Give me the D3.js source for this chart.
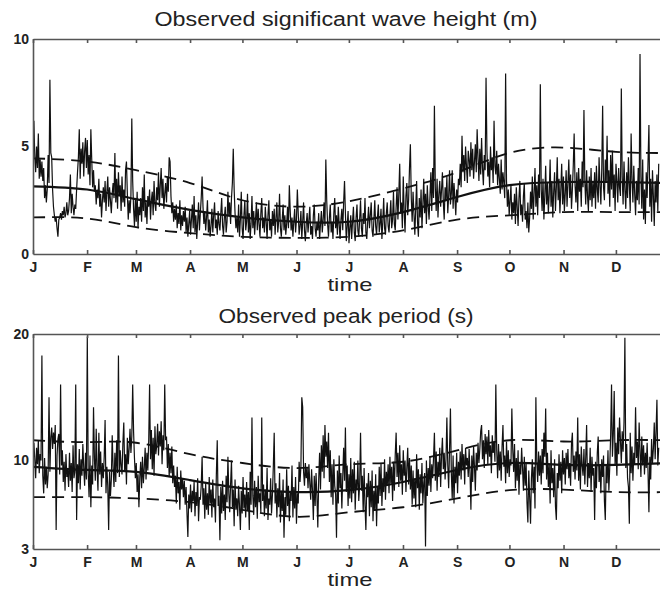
<!DOCTYPE html>
<html>
<head>
<meta charset="utf-8">
<script src="https://cdn.jsdelivr.net/npm/d3@7.9.0/dist/d3.min.js"></script>
<style>
  body { margin: 0; background: #fff; }
  svg { display: block; font-family: "Liberation Sans", Arial, Helvetica, sans-serif; }
</style>
</head>
<body>
<svg id="chart" width="660" height="593"></svg>
<script>
const months = ["J", "F", "M", "A", "M", "J", "J", "A", "S", "O", "N", "D"];
const monthStartDays = [0, 31, 59, 90, 120, 151, 181, 212, 243, 273, 304, 334];
const sampleStep = 0.51; // days between observations

// observed significant wave height (m)
const hsObs = [
  4.2, 6.2, 4.5, 3.8, 5.0, 4.0, 5.6, 3.5, 4.4, 3.6,
  4.3, 3.4, 4.0, 2.6, 3.2, 2.4, 3.0, 4.6, 3.3, 8.1,
  4.7, 4.5, 3.0, 2.2, 1.8, 1.5, 1.7, 1.2, 0.8, 1.6,
  1.7, 1.9, 1.6, 2.0, 1.8, 2.2, 1.7, 1.9, 2.4, 1.8,
  2.0, 2.6, 3.7, 1.9, 2.8, 2.2, 1.8, 2.3, 2.1, 3.0,
  3.8, 4.5, 5.8, 3.5, 4.9, 4.2, 5.2, 3.6, 4.8, 5.4,
  4.0, 5.3, 3.7, 4.6, 3.2, 5.8, 4.4, 3.1, 3.9, 2.9,
  3.2, 2.3, 3.0, 2.6, 3.5, 2.2, 2.8, 1.7, 2.5, 3.1,
  2.4, 3.4, 2.0, 2.9, 3.6, 2.2, 3.1, 2.5, 1.9, 2.8,
  3.3, 2.6, 4.7, 2.4, 3.5, 2.1, 3.8, 2.7, 3.2, 2.0,
  3.6, 2.4, 3.0, 2.2, 3.9, 4.3, 2.8, 1.6, 2.5, 1.9,
  2.7, 6.3, 3.4, 2.1, 1.3, 2.6, 1.5, 2.9, 1.2, 2.2,
  1.8, 2.6, 1.5, 3.1, 2.0, 3.7, 1.7, 2.4, 1.4, 2.7,
  2.2, 3.0, 1.6, 2.5, 2.9, 1.8, 3.4, 2.3, 2.0, 3.1,
  2.5, 3.8, 2.2, 3.2, 4.0, 2.6, 3.5, 2.1, 2.8, 3.3,
  2.4, 3.6, 2.9, 4.5, 4.3, 2.7, 1.9, 2.4, 1.5, 2.1,
  1.6, 2.3, 1.2, 1.9, 1.4, 2.5, 1.1, 1.8, 1.3, 2.0,
  1.5, 2.2, 1.0, 1.7, 0.8, 1.4, 2.0, 0.9, 1.6, 2.3,
  1.2, 2.7, 1.0, 1.8, 0.7, 1.5, 2.4, 1.1, 1.9, 2.6,
  3.6, 2.2, 1.4, 2.0, 1.1, 1.7, 2.5, 1.0, 1.6, 0.8,
  1.3, 2.1, 1.0, 1.8, 2.4, 1.2, 1.6, 0.9, 2.0, 1.4,
  1.1, 1.9, 2.6, 1.3, 0.9, 1.7, 2.2, 1.0, 1.5, 2.9,
  1.8, 2.4, 1.4, 2.6, 3.3, 4.9, 3.0, 1.9, 1.2, 1.7,
  1.0, 2.3, 0.8, 1.6, 2.9, 1.2, 0.7, 1.8, 2.5, 1.1,
  1.5, 2.8, 1.0, 1.9, 0.7, 1.4, 2.7, 1.2, 2.0, 0.9,
  1.6, 2.4, 1.1, 2.1, 1.4, 0.8, 1.9, 2.6, 1.2, 1.7,
  1.0, 2.2, 1.5, 0.7, 1.8, 2.5, 1.1, 1.6, 0.8, 2.0,
  1.3, 2.1, 0.9, 1.7, 2.4, 1.0, 1.5, 2.8, 1.2, 0.8,
  1.6, 2.3, 1.1, 1.8, 0.9, 1.4, 2.2, 1.2, 3.2, 2.0,
  1.1, 1.7, 0.8, 1.5, 2.1, 1.0, 1.6, 3.0, 1.9, 0.9,
  1.3, 2.0, 0.7, 1.5, 2.4, 1.1, 0.6, 1.4, 1.9, 1.0,
  1.6, 2.2, 0.9, 1.3, 0.7, 1.8, 2.3, 1.2, 0.8, 1.5,
  1.1, 1.9, 0.7, 1.4, 2.0, 1.0, 1.6, 2.4, 1.3, 4.4,
  2.5, 1.4, 0.8, 1.7, 2.3, 1.0, 1.5, 0.7, 1.9, 2.6,
  1.2, 1.8, 0.9, 2.2, 1.4, 0.7, 1.6, 2.1, 1.1, 2.4,
  3.4, 1.9, 0.6, 1.3, 2.0, 0.5, 1.2, 1.8, 0.7, 1.5,
  2.2, 1.0, 0.6, 1.7, 2.3, 1.1, 0.8, 1.6, 2.5, 1.2,
  0.8, 1.9, 1.4, 2.6, 1.0, 0.7, 1.5, 2.2, 1.2, 1.8,
  2.4, 1.1, 0.8, 1.6, 2.5, 1.3, 0.9, 1.7, 2.3, 1.0,
  1.4, 2.1, 0.7, 1.5, 2.6, 1.2, 0.9, 1.9, 2.4, 1.3,
  1.0, 1.8, 2.5, 1.2, 1.6, 2.9, 1.4, 1.1, 2.2, 3.1,
  1.6, 2.8, 4.2, 1.9, 2.4, 1.2, 3.6, 2.0, 1.0, 2.7,
  3.3, 1.8, 2.5, 4.0, 5.1, 2.6, 1.5, 2.9, 1.9, 0.9,
  2.1, 3.4, 1.5, 0.8, 2.6, 1.7, 3.0, 1.2, 2.3, 3.5,
  1.9, 2.8, 1.4, 3.2, 2.2, 1.6, 2.7, 3.8, 2.0, 4.0,
  2.6, 6.9, 3.1, 2.0, 3.5, 1.7, 2.8, 3.4, 2.2, 3.0,
  3.8, 2.4, 1.6, 3.1, 2.5, 3.6, 1.9, 2.7, 3.9, 2.3,
  2.8, 3.9, 2.1, 3.3, 2.6, 1.8, 3.0, 2.4, 3.5, 3.2,
  4.2, 3.1, 5.5, 3.8, 4.6, 3.4, 5.0, 4.1, 3.3, 4.8,
  4.4, 3.6, 5.2, 3.9, 4.9, 3.5, 4.3, 5.1, 3.8, 5.8,
  4.5, 3.4, 4.9, 3.7, 5.4, 4.0, 3.2, 4.6, 3.9, 8.2,
  4.8, 3.6, 4.3, 3.1, 5.0, 3.9, 4.5, 3.3, 6.2, 4.1,
  3.7, 4.8, 3.2, 4.2, 3.5, 2.8, 4.4, 3.0, 3.8, 3.3,
  2.6, 8.4, 3.4, 2.2, 3.0, 1.8, 2.5, 3.2, 1.6, 2.4,
  1.9, 2.8, 1.4, 3.1, 2.2, 1.3, 2.6, 3.4, 1.8, 2.3,
  1.5, 2.7, 3.3, 1.6, 2.0, 1.2, 2.4, 1.0, 1.7, 2.9,
  2.1, 3.6, 1.6, 2.8, 4.0, 2.2, 3.2, 1.8, 3.7, 2.6,
  7.9, 3.0, 2.0, 3.5, 1.6, 2.7, 4.1, 2.3, 3.3, 1.9,
  2.8, 4.4, 2.2, 3.4, 1.7, 2.9, 3.8, 2.0, 3.1, 4.5,
  2.5, 3.5, 1.9, 3.0, 4.2, 2.3, 3.6, 2.0, 2.8, 3.9,
  2.2, 3.3, 4.4, 2.6, 3.7, 2.1, 3.0, 4.1, 5.6, 3.2,
  2.4, 3.8, 2.0, 4.0, 2.9, 3.5, 2.2, 4.3, 3.1, 6.7,
  3.4, 2.3, 3.9, 2.7, 2.0, 3.6, 2.5, 4.0, 2.2, 3.3,
  2.6, 3.8, 2.1, 4.1, 3.0, 2.4, 4.5, 3.2, 2.3, 3.9,
  6.9, 3.1, 2.5, 4.4, 3.3, 5.5, 2.8, 3.9, 2.2, 4.6,
  3.0, 4.8, 2.6, 3.7, 2.0, 4.2, 3.4, 2.4, 4.0, 3.1,
  2.7, 7.7, 3.6, 2.3, 4.3, 3.0, 2.1, 3.8, 2.6, 4.5,
  3.2, 2.0, 5.6, 3.5, 2.4, 4.1, 2.8, 1.8, 3.4, 2.5,
  4.0, 2.3, 9.3, 3.6, 2.1, 4.4, 1.6, 3.0, 1.4, 3.8,
  2.6, 4.3, 6.0, 2.2, 3.5, 1.5, 3.9, 2.7, 1.3, 3.4,
  2.4, 3.7, 2.0, 4.2
];

// observed peak period (s)
const tpObs = [
  9.2, 11.4, 10.1, 8.6, 11.0, 9.7, 11.6, 9.0, 10.5, 10.0,
  18.3, 8.8, 7.4, 10.2, 8.1, 9.5, 7.8, 8.9, 15.0, 9.1,
  11.8, 12.6, 10.9, 12.2, 11.3, 12.8, 4.5, 10.4, 11.7, 12.1,
  8.9, 16.0, 9.6, 10.8, 8.3, 9.9, 7.6, 10.5, 8.7, 9.3,
  7.9, 10.6, 8.4, 9.8, 7.5, 11.2, 8.6, 9.1, 16.0, 5.3,
  9.7, 8.2, 10.9, 7.7, 10.1, 8.8, 11.3, 9.4, 8.0, 10.6,
  8.5, 19.8, 9.0, 7.1, 10.4, 6.3, 9.6, 8.1, 14.2, 10.2,
  8.4, 12.5, 9.3, 7.6, 12.2, 8.9, 10.7, 7.9, 9.8, 8.6,
  10.3, 13.2, 7.4, 9.5, 8.0, 4.5, 9.1, 7.2, 8.5, 12.0,
  9.4, 7.9, 10.6, 8.3, 11.6, 9.0, 18.3, 8.7, 10.8, 9.6,
  8.9, 11.4, 13.0, 9.2, 10.5, 8.1, 11.8, 9.7, 10.9, 12.5,
  10.6, 11.9, 16.0, 12.3, 10.2, 8.6, 9.8, 7.5, 8.9, 6.3,
  8.7, 9.9, 7.8, 10.3, 8.2, 9.4, 11.0, 8.5, 10.6, 9.2,
  11.5, 16.0, 10.1, 12.4, 9.3, 11.8, 8.8, 12.7, 10.5, 11.2,
  12.9, 10.4, 12.3, 11.1, 13.1, 9.7, 12.0, 10.8, 16.0, 11.6,
  11.9, 9.4, 11.3, 8.7, 10.6, 9.0, 11.1, 8.2, 9.6, 7.9,
  8.8, 6.6, 9.5, 7.4, 8.3, 6.1, 9.2, 7.7, 8.6, 7.1,
  8.4, 6.5, 7.9, 5.8, 3.95, 7.3, 6.2, 8.1, 5.9, 7.6,
  6.8, 8.3, 5.6, 7.5, 6.4, 8.6, 5.2, 7.1, 6.9, 8.0,
  10.3, 6.5, 7.8, 5.4, 8.2, 6.1, 7.4, 5.7, 8.7, 6.6,
  7.7, 5.5, 8.5, 6.3, 7.0, 5.1, 8.9, 11.6, 6.4, 7.2,
  3.7, 7.9, 5.8, 8.4, 6.0, 7.3, 5.3, 8.8, 6.7, 10.3,
  7.4, 5.9, 8.1, 10.0, 6.3, 7.7, 4.8, 8.5, 6.1, 7.0,
  5.6, 8.0, 6.4, 4.5, 7.6, 5.8, 8.7, 6.2, 7.3, 5.5,
  8.3, 6.0, 7.5, 4.5, 9.1, 6.5, 13.4, 7.2, 5.7, 8.4,
  6.3, 7.9, 5.4, 8.8, 6.7, 7.4, 5.9, 13.4, 6.8, 8.1,
  5.6, 7.7, 6.2, 9.4, 5.3, 7.0, 6.5, 8.6, 5.8, 7.3,
  9.5, 12.2, 6.6, 8.2, 5.5, 7.8, 6.3, 9.0, 5.1, 7.6,
  6.0, 8.5, 3.9, 7.1, 5.7, 9.3, 6.4, 8.0, 5.2, 7.5,
  6.8, 9.6, 5.5, 7.9, 6.2, 8.7, 5.0, 7.4, 6.6, 9.9,
  8.3, 9.5, 15.0, 14.2, 9.1, 8.0, 9.8, 8.6, 9.4, 7.8,
  9.7, 8.2, 6.9, 9.3, 7.6, 5.3, 8.8, 6.4, 9.0, 7.2,
  4.7, 8.5, 10.6, 7.7, 11.2, 9.1, 12.0, 8.6, 12.8, 10.3,
  11.5, 9.4, 12.2, 8.3, 10.8, 7.1, 9.7, 6.5, 10.1, 8.0,
  7.3, 3.9, 9.2, 6.6, 10.4, 7.8, 9.0, 6.2, 8.7, 11.0,
  8.4, 12.6, 7.5, 9.6, 6.4, 8.9, 7.0, 10.2, 6.7, 9.3,
  7.4, 9.9, 6.1, 8.5, 7.7, 10.0, 6.8, 8.1, 12.2, 7.6,
  8.8, 5.9, 9.4, 6.5, 4.5, 8.2, 7.1, 9.0, 5.6, 8.4,
  6.3, 9.2, 5.2, 7.6, 6.0, 8.9, 4.8, 7.9, 6.6, 9.5,
  7.2, 9.8, 6.4, 8.6, 7.5, 10.1, 6.9, 9.1, 8.0, 9.7,
  7.4, 10.3, 8.2, 9.5, 6.8, 9.9, 7.6, 10.5, 12.2, 8.7,
  10.6, 7.9, 11.2, 8.4, 9.7, 7.3, 10.8, 8.8, 10.0, 7.5,
  9.4, 11.0, 8.1, 10.2, 7.7, 9.6, 6.5, 9.2, 7.0, 8.6,
  6.3, 10.5, 7.8, 9.3, 6.1, 8.9, 7.4, 9.8, 6.6, 8.2,
  9.0, 3.2, 10.0, 7.2, 9.4, 8.0, 10.3, 7.5, 9.7, 8.6,
  10.2, 12.2, 8.4, 10.7, 7.6, 9.9, 8.7, 11.0, 7.9, 10.4,
  11.8, 9.3, 10.6, 8.5, 10.1, 13.4, 9.6, 7.8, 10.9, 14.1,
  9.0, 7.0, 10.4, 6.6, 9.5, 8.2, 10.6, 7.4, 9.9, 8.8,
  10.7, 8.5, 11.3, 9.2, 10.5, 8.1, 11.0, 9.6, 10.2, 8.7,
  10.9, 9.0, 6.1, 10.4, 8.3, 11.1, 9.5, 7.6, 10.6, 9.2,
  11.4, 9.8, 10.9, 12.3, 12.8, 10.1, 11.6, 9.4, 12.1, 10.5,
  11.9, 9.7, 12.4, 10.3, 11.2, 9.0, 12.0, 10.6, 11.5, 9.9,
  16.0, 10.8, 8.6, 11.3, 9.2, 10.7, 8.4, 11.1, 12.8, 9.5,
  10.4, 8.2, 11.5, 9.0, 10.8, 8.7, 10.1, 9.6, 14.1, 10.9,
  9.1, 11.3, 7.8, 10.2, 8.4, 10.8, 7.3, 9.7, 8.9, 11.0,
  9.4, 7.6, 10.3, 8.0, 9.8, 6.7, 5.1, 9.2, 7.1, 5.0,
  8.6, 10.1, 7.4, 9.5, 6.2, 15.0, 9.9, 8.3, 10.7, 8.8,
  10.4, 8.1, 10.9, 9.0, 12.2, 10.3, 14.1, 8.5, 10.6, 7.9,
  9.7, 6.6, 10.8, 8.2, 9.4, 7.1, 10.1, 6.4, 5.3, 9.0,
  7.8, 10.5, 8.4, 9.9, 7.4, 10.8, 8.9, 10.2, 8.1, 10.6,
  9.3, 10.9, 8.6, 9.8, 8.0, 11.3, 12.2, 9.1, 10.4, 8.5,
  10.7, 9.2, 13.4, 8.4, 10.5, 7.7, 11.1, 9.6, 8.8, 10.9,
  8.1, 10.2, 12.8, 7.9, 9.8, 8.6, 11.0, 7.5, 10.3, 8.8,
  9.4, 5.3, 9.9, 7.8, 10.6, 11.9, 8.3, 9.7, 7.4, 10.1,
  8.7, 10.4, 6.8, 5.3, 9.6, 8.2, 10.8, 7.6, 9.5, 12.0,
  16.0, 10.3, 12.1, 15.5, 9.6, 11.4, 8.8, 12.6, 10.5, 13.4,
  11.6, 9.8, 12.3, 10.7, 13.0, 19.7, 9.4, 11.3, 8.6, 7.9,
  5.0, 12.2, 9.0, 11.1, 8.4, 10.6, 9.7, 14.2, 10.2, 11.5,
  9.3, 13.0, 10.8, 8.7, 11.9, 9.6, 11.2, 8.9, 10.6, 9.4,
  11.4, 9.1, 5.9, 10.3, 8.5, 11.7, 9.8, 10.9, 13.0, 10.1,
  12.3, 14.8, 9.6, 11.0
];

// seasonal fits (mean and mean +/- one std) at the first day of each month
const fitDays = [0, 31, 59, 90, 120, 151, 181, 212, 243, 273, 304, 334, 365];
const hsMean  = [3.15, 3.0, 2.55, 2.05, 1.7, 1.5, 1.5, 1.95, 2.65, 3.2, 3.35, 3.35, 3.3];
const hsUpper = [4.45, 4.3, 3.9, 3.3, 2.5, 2.2, 2.45, 3.05, 3.8, 4.7, 4.95, 4.75, 4.7];
const hsLower = [1.7, 1.65, 1.25, 0.97, 0.8, 0.75, 0.8, 1.1, 1.6, 1.8, 1.95, 1.95, 1.95];
const tpMean  = [9.5, 9.25, 9.1, 8.45, 7.8, 7.5, 7.65, 8.3, 9.25, 9.8, 9.65, 9.65, 9.8];
const tpUpper = [11.6, 11.45, 11.4, 10.5, 9.8, 9.4, 9.7, 9.9, 10.8, 11.6, 11.5, 11.6, 11.6];
const tpLower = [7.1, 7.1, 7.0, 6.7, 6.1, 5.55, 5.9, 6.3, 7.0, 7.65, 7.7, 7.5, 7.5];

const svg = d3.select("#chart");

const x = d3.scaleLinear().domain([0, 365]).range([33, 670]);

function drawPanel(opts) {
  const { top, bottom, yDomain, yTicks, title, titleY, titleWidth, obs, mean, upper, lower, id } = opts;
  const y = d3.scaleLinear().domain(yDomain).range([bottom, top]);
  const g = svg.append("g");

  g.append("clipPath").attr("id", id)
    .append("rect").attr("x", 33).attr("y", top).attr("width", 640).attr("height", bottom - top);

  const plot = g.append("g").attr("clip-path", `url(#${id})`);

  // raw observations
  const rawLine = d3.line()
    .x((d, i) => x(i * sampleStep))
    .y((d) => y(d));
  plot.append("path")
    .datum(obs)
    .attr("d", rawLine)
    .attr("fill", "none")
    .attr("stroke", "#111")
    .attr("stroke-width", 1.2);

  // seasonal fits
  const fitLine = d3.line()
    .x((d, i) => x(fitDays[i]))
    .y((d) => y(d))
    .curve(d3.curveNatural);

  [upper, lower].forEach((arr) => {
    plot.append("path")
      .datum(arr)
      .attr("d", fitLine)
      .attr("fill", "none")
      .attr("stroke", "#111")
      .attr("stroke-width", 1.8)
      .attr("stroke-dasharray", "12,7");
  });
  plot.append("path")
    .datum(mean)
    .attr("d", fitLine)
    .attr("fill", "none")
    .attr("stroke", "#111")
    .attr("stroke-width", 2.2);

  // axes: box with inward month ticks
  const xBottom = d3.axisBottom(x)
    .tickValues(monthStartDays)
    .tickSize(-4)
    .tickSizeOuter(0)
    .tickPadding(8)
    .tickFormat((d, i) => months[i]);
  const gb = g.append("g").attr("transform", `translate(0,${bottom})`).call(xBottom);
  gb.selectAll("text")
    .attr("font-size", 14)
    .attr("font-weight", "bold")
    .attr("fill", "#222")
    .attr("font-family", "Liberation Sans, Arial, sans-serif");

  const xTop = d3.axisTop(x)
    .tickValues(monthStartDays)
    .tickSize(-4)
    .tickSizeOuter(0)
    .tickFormat("");
  g.append("g").attr("transform", `translate(0,${top})`).call(xTop);

  const yAxis = d3.axisLeft(y)
    .tickValues(yTicks)
    .tickSize(0)
    .tickSizeOuter(0)
    .tickPadding(4)
    .tickFormat(d3.format("d"));
  const gl = g.append("g").attr("transform", `translate(33,0)`).call(yAxis);
  gl.selectAll("text")
    .attr("font-size", 14)
    .attr("font-weight", "bold")
    .attr("fill", "#222")
    .attr("font-family", "Liberation Sans, Arial, sans-serif");

  g.selectAll(".domain, .tick line")
    .attr("stroke", "#555")
    .attr("stroke-width", 1.6);

  // title and x label
  g.append("text")
    .attr("x", 346)
    .attr("y", titleY)
    .attr("text-anchor", "middle")
    .attr("font-size", 20)
    .attr("fill", "#222")
    .attr("textLength", titleWidth)
    .attr("lengthAdjust", "spacingAndGlyphs")
    .text(title);

  g.append("text")
    .attr("x", 350)
    .attr("y", bottom + 37)
    .attr("text-anchor", "middle")
    .attr("font-size", 19)
    .attr("fill", "#222")
    .attr("textLength", 45)
    .attr("lengthAdjust", "spacingAndGlyphs")
    .text("time");
}

drawPanel({
  id: "clip-hs",
  top: 39, bottom: 254,
  yDomain: [0, 10], yTicks: [0, 5, 10],
  title: "Observed significant wave height (m)", titleY: 26, titleWidth: 383,
  obs: hsObs, mean: hsMean, upper: hsUpper, lower: hsLower
});

drawPanel({
  id: "clip-tp",
  top: 334, bottom: 549,
  yDomain: [3, 20], yTicks: [3, 10, 20],
  title: "Observed peak period (s)", titleY: 323, titleWidth: 255,
  obs: tpObs, mean: tpMean, upper: tpUpper, lower: tpLower
});
</script>
</body>
</html>
